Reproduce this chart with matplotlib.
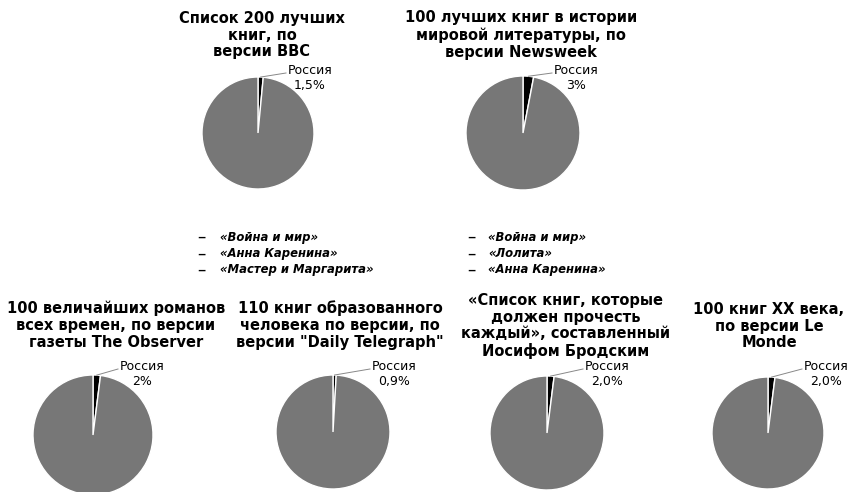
import math
import matplotlib.pyplot as plt

# Chart data
titles = [
    'Список 200 лучших\nкниг, по\nверсии ВВС',
    '100 лучших книг в истории\nмировой литературы, по\nверсии Newsweek',
    '100 величайших романов\nвсех времен, по версии\nгазеты The Observer',
    '110 книг образованного\nчеловека по версии, по\nверсии "Daily Telegraph"',
    '«Список книг, которые\nдолжен прочесть\nкаждый», составленный\nИосифом Бродским',
    '100 книг XX века,\nпо версии Le\nMonde',
]
russia_share = [1.5, 3, 2, 0.9, 2.0, 2.0]
share_labels = ['1,5%', '3%', '2%', '0,9%', '2,0%', '2,0%']
category = 'Россия'

top_books_bbc = ['«Война и мир»', '«Анна Каренина»', '«Мастер и Маргарита»']
top_books_newsweek = ['«Война и мир»', '«Лолита»', '«Анна Каренина»']

# Layout (pixels from top-left)
W, H = 849, 492
centers = [(258, 133), (523, 133), (93, 435), (333, 432), (547, 433), (768, 433)]
radii = [56, 57, 60, 57, 57, 56]
title_pos = [(262, 35), (521, 35), (116, 325), (340, 325), (566, 326), (769, 326)]
label_pos = [(310, 78), (576, 78), (142, 374), (394, 374), (607, 374), (826, 374)]

fig = plt.figure(figsize=(W / 100, H / 100), dpi=100)
ax = fig.add_axes([0, 0, 1, 1])

for i in range(len(titles)):
    cx, cy = centers[i]
    r = radii[i]
    vals = [russia_share[i], 100 - russia_share[i]]
    ax.pie(vals, center=(cx, H - cy), radius=r, startangle=90,
           counterclock=False, colors=['black', '#777777'],
           wedgeprops=dict(edgecolor='white', linewidth=1), frame=False)

    tx, ty = title_pos[i]
    ax.text(tx, H - ty, titles[i], ha='center', va='center',
            fontsize=10.5, fontweight='bold', family='DejaVu Sans',
            linespacing=1.15)

    lx, ly = label_pos[i]
    ax.text(lx, H - ly, category + '\n' + share_labels[i], ha='center',
            va='center', fontsize=9, family='DejaVu Sans', linespacing=1.2)

    # leader line from the slice edge to the label
    ang = math.radians(90 - 360 * russia_share[i] / 100 / 2)
    x0 = cx + r * math.cos(ang)
    y0 = (H - cy) + r * math.sin(ang)
    ax.plot([x0, lx - 24], [y0, H - (ly - 5)], color='#888888', lw=0.7)

# book lists between the rows
for j, b in enumerate(top_books_bbc):
    y = 237 + j * 16.5
    ax.text(197, H - y, '–', ha='left', va='center', fontsize=12,
            family='DejaVu Sans')
    ax.text(220, H - y, b, ha='left', va='center', fontsize=8.4,
            fontweight='bold', style='italic', family='DejaVu Sans')
for j, b in enumerate(top_books_newsweek):
    y = 237 + j * 16.5
    ax.text(467, H - y, '–', ha='left', va='center', fontsize=12,
            family='DejaVu Sans')
    ax.text(488, H - y, b, ha='left', va='center', fontsize=8.4,
            fontweight='bold', style='italic', family='DejaVu Sans')

ax.set_xlim(0, W)
ax.set_ylim(0, H)
ax.set_aspect('auto')
ax.axis('off')

plt.savefig('out.png', dpi=100)
